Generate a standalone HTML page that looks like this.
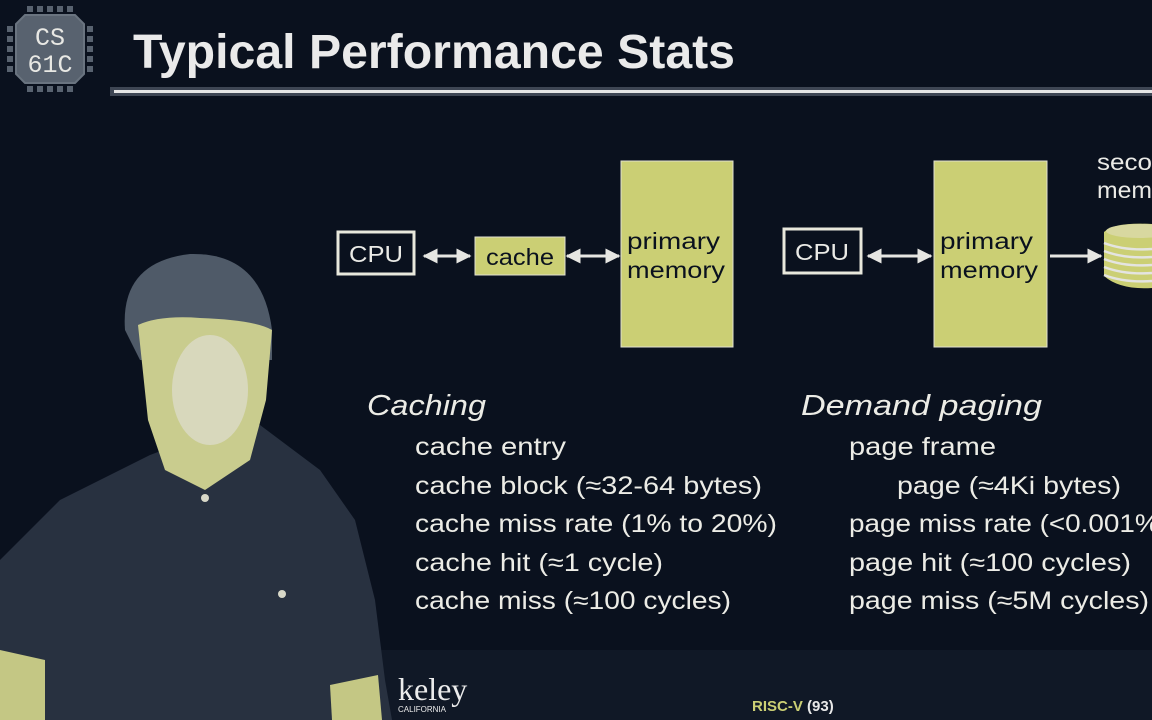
<!DOCTYPE html>
<html><head><meta charset="utf-8"><style>
html,body{margin:0;padding:0;background:#0a111e;width:1152px;height:720px;overflow:hidden}
svg{display:block}
</style></head><body>
<svg width="1152" height="720" viewBox="0 0 1152 720" xmlns="http://www.w3.org/2000/svg">
<defs>
<marker id="a" viewBox="0 0 10 10" refX="9" refY="5" markerWidth="5" markerHeight="5" orient="auto-start-reverse"><path d="M0,0L10,5L0,10z" fill="#e6e6e2"/></marker>
</defs>
<rect width="1152" height="720" fill="#0a111e"/>
<rect x="0" y="650" width="1152" height="70" fill="#101826"/>
<!-- logo -->
<g fill="#58626f">
<rect x="27" y="6" width="6" height="6"/><rect x="37" y="6" width="6" height="6"/><rect x="47" y="6" width="6" height="6"/><rect x="57" y="6" width="6" height="6"/><rect x="67" y="6" width="6" height="6"/>
<rect x="27" y="86" width="6" height="6"/><rect x="37" y="86" width="6" height="6"/><rect x="47" y="86" width="6" height="6"/><rect x="57" y="86" width="6" height="6"/><rect x="67" y="86" width="6" height="6"/>
<rect x="7" y="26" width="6" height="6"/><rect x="7" y="36" width="6" height="6"/><rect x="7" y="46" width="6" height="6"/><rect x="7" y="56" width="6" height="6"/><rect x="7" y="66" width="6" height="6"/>
<rect x="87" y="26" width="6" height="6"/><rect x="87" y="36" width="6" height="6"/><rect x="87" y="46" width="6" height="6"/><rect x="87" y="56" width="6" height="6"/><rect x="87" y="66" width="6" height="6"/>
</g>
<path d="M25,15L75,15L84,24L84,74L75,83L25,83L16,74L16,24Z" fill="#58626f" stroke="#6a7480" stroke-width="2"/>
<text x="50" y="45" font-family="Liberation Mono, monospace" font-size="25" fill="#e8e8e4" text-anchor="middle">CS</text>
<text x="50" y="72" font-family="Liberation Mono, monospace" font-size="25" fill="#e8e8e4" text-anchor="middle">61C</text>
<!-- title -->
<text x="133" y="68" font-family="Liberation Sans, sans-serif" font-weight="bold" font-size="48" fill="#eaeaea" textLength="602" lengthAdjust="spacingAndGlyphs">Typical Performance Stats</text>
<rect x="110" y="87" width="1042" height="9" fill="#3e4654"/>
<rect x="114" y="90" width="1038" height="3" fill="#e6e6e6"/>
<!-- person -->
<path d="M0,560 L60,500 L150,455 L190,440 L260,425 L320,470 L355,520 L375,600 L385,680 L392,720 L0,720Z" fill="#283140"/>
<path d="M0,650 L45,660 L45,720 L0,720Z" fill="#c4c784"/>
<path d="M330,685 L378,675 L382,720 L332,720Z" fill="#c4c784"/>
<path d="M125,330 Q120,262 190,254 Q262,252 272,330 L272,360 L140,360Z" fill="#4f5a68"/>
<path d="M138,325 Q160,315 200,318 Q255,320 272,330 L266,400 L250,460 L205,490 L165,470 L148,420Z" fill="#c9cc8e"/>
<ellipse cx="210" cy="390" rx="38" ry="55" fill="#d8d8bc"/>
<circle cx="205" cy="498" r="4" fill="#d8d8c8"/>
<circle cx="282" cy="594" r="4" fill="#d8d8c8"/>
<!-- diagram left -->
<g font-family="Liberation Sans, sans-serif" font-size="23" fill="#eaeae6">
<rect x="338" y="232" width="76" height="42" fill="none" stroke="#e8e8dc" stroke-width="3"/>
<text x="376" y="262" text-anchor="middle" textLength="54" lengthAdjust="spacingAndGlyphs">CPU</text>
<line x1="424" y1="256" x2="470" y2="256" stroke="#e6e6e2" stroke-width="3" marker-start="url(#a)" marker-end="url(#a)"/>
<rect x="475" y="237" width="90" height="38" fill="#cbcf74" stroke="#e0e0d0" stroke-width="1"/>
<text x="520" y="265" text-anchor="middle" fill="#0a111e" textLength="68" lengthAdjust="spacingAndGlyphs">cache</text>
<line x1="567" y1="256" x2="619" y2="256" stroke="#e6e6e2" stroke-width="3" marker-start="url(#a)" marker-end="url(#a)"/>
<rect x="621" y="161" width="112" height="186" fill="#cbcf74" stroke="#e0e0d0" stroke-width="1"/>
<text x="627" y="249" fill="#0a111e" textLength="93" lengthAdjust="spacingAndGlyphs">primary</text>
<text x="627" y="278" fill="#0a111e" textLength="98" lengthAdjust="spacingAndGlyphs">memory</text>
<!-- right -->
<rect x="784" y="229" width="77" height="44" fill="none" stroke="#e8e8dc" stroke-width="3"/>
<text x="822" y="260" text-anchor="middle" textLength="54" lengthAdjust="spacingAndGlyphs">CPU</text>
<line x1="868" y1="256" x2="931" y2="256" stroke="#e6e6e2" stroke-width="3" marker-start="url(#a)" marker-end="url(#a)"/>
<rect x="934" y="161" width="113" height="186" fill="#cbcf74" stroke="#e0e0d0" stroke-width="1"/>
<text x="940" y="249" fill="#0a111e" textLength="93" lengthAdjust="spacingAndGlyphs">primary</text>
<text x="940" y="278" fill="#0a111e" textLength="98" lengthAdjust="spacingAndGlyphs">memory</text>
<line x1="1050" y1="256" x2="1101" y2="256" stroke="#e6e6e2" stroke-width="3" marker-end="url(#a)"/>
<text x="1097" y="170" textLength="55" lengthAdjust="spacingAndGlyphs">seco</text>
<text x="1097" y="198" textLength="55" lengthAdjust="spacingAndGlyphs">mem</text>
</g>
<g>
<path d="M1104,232 L1104,276 Q1120,290 1152,288 L1152,224 Q1115,222 1104,232Z" fill="#cbcf74"/>
<ellipse cx="1140" cy="231" rx="34" ry="7" fill="#d8d8a0"/>
<g stroke="#e4e4e0" stroke-width="2.5" fill="none">
<path d="M1104,243 Q1125,251 1152,249"/><path d="M1104,251 Q1125,259 1152,257"/><path d="M1104,259 Q1125,267 1152,265"/><path d="M1104,267 Q1125,275 1152,273"/><path d="M1104,275 Q1125,283 1152,281"/>
</g>
</g>
<!-- lists -->
<g font-family="Liberation Sans, sans-serif" font-size="25" fill="#ecece6">
<text x="367" y="415" font-style="italic" font-size="29" textLength="119" lengthAdjust="spacingAndGlyphs">Caching</text>
<text x="415" y="455" textLength="151" lengthAdjust="spacingAndGlyphs">cache entry</text>
<text x="415" y="494" textLength="347" lengthAdjust="spacingAndGlyphs">cache block (≈32-64 bytes)</text>
<text x="415" y="532" textLength="362" lengthAdjust="spacingAndGlyphs">cache miss rate (1% to 20%)</text>
<text x="415" y="571" textLength="248" lengthAdjust="spacingAndGlyphs">cache hit (≈1 cycle)</text>
<text x="415" y="609" textLength="316" lengthAdjust="spacingAndGlyphs">cache miss (≈100 cycles)</text>
<text x="801" y="415" font-style="italic" font-size="29" textLength="241" lengthAdjust="spacingAndGlyphs">Demand paging</text>
<text x="849" y="455" textLength="147" lengthAdjust="spacingAndGlyphs">page frame</text>
<text x="897" y="494" textLength="224" lengthAdjust="spacingAndGlyphs">page (≈4Ki bytes)</text>
<text x="849" y="532" textLength="320" lengthAdjust="spacingAndGlyphs">page miss rate (&lt;0.001%)</text>
<text x="849" y="571" textLength="282" lengthAdjust="spacingAndGlyphs">page hit (≈100 cycles)</text>
<text x="849" y="609" textLength="300" lengthAdjust="spacingAndGlyphs">page miss (≈5M cycles)</text>
</g>
<text x="398" y="700" font-family="Liberation Serif, serif" font-size="32" fill="#ececec">keley</text>
<text x="398" y="712" font-family="Liberation Sans, sans-serif" font-size="8" fill="#ececec">CALIFORNIA</text>
<text x="752" y="711" font-family="Liberation Sans, sans-serif" font-weight="bold" font-size="15" fill="#cbcf74">RISC-V <tspan fill="#e8e8e8">(93)</tspan></text>
</svg>
</body></html>
